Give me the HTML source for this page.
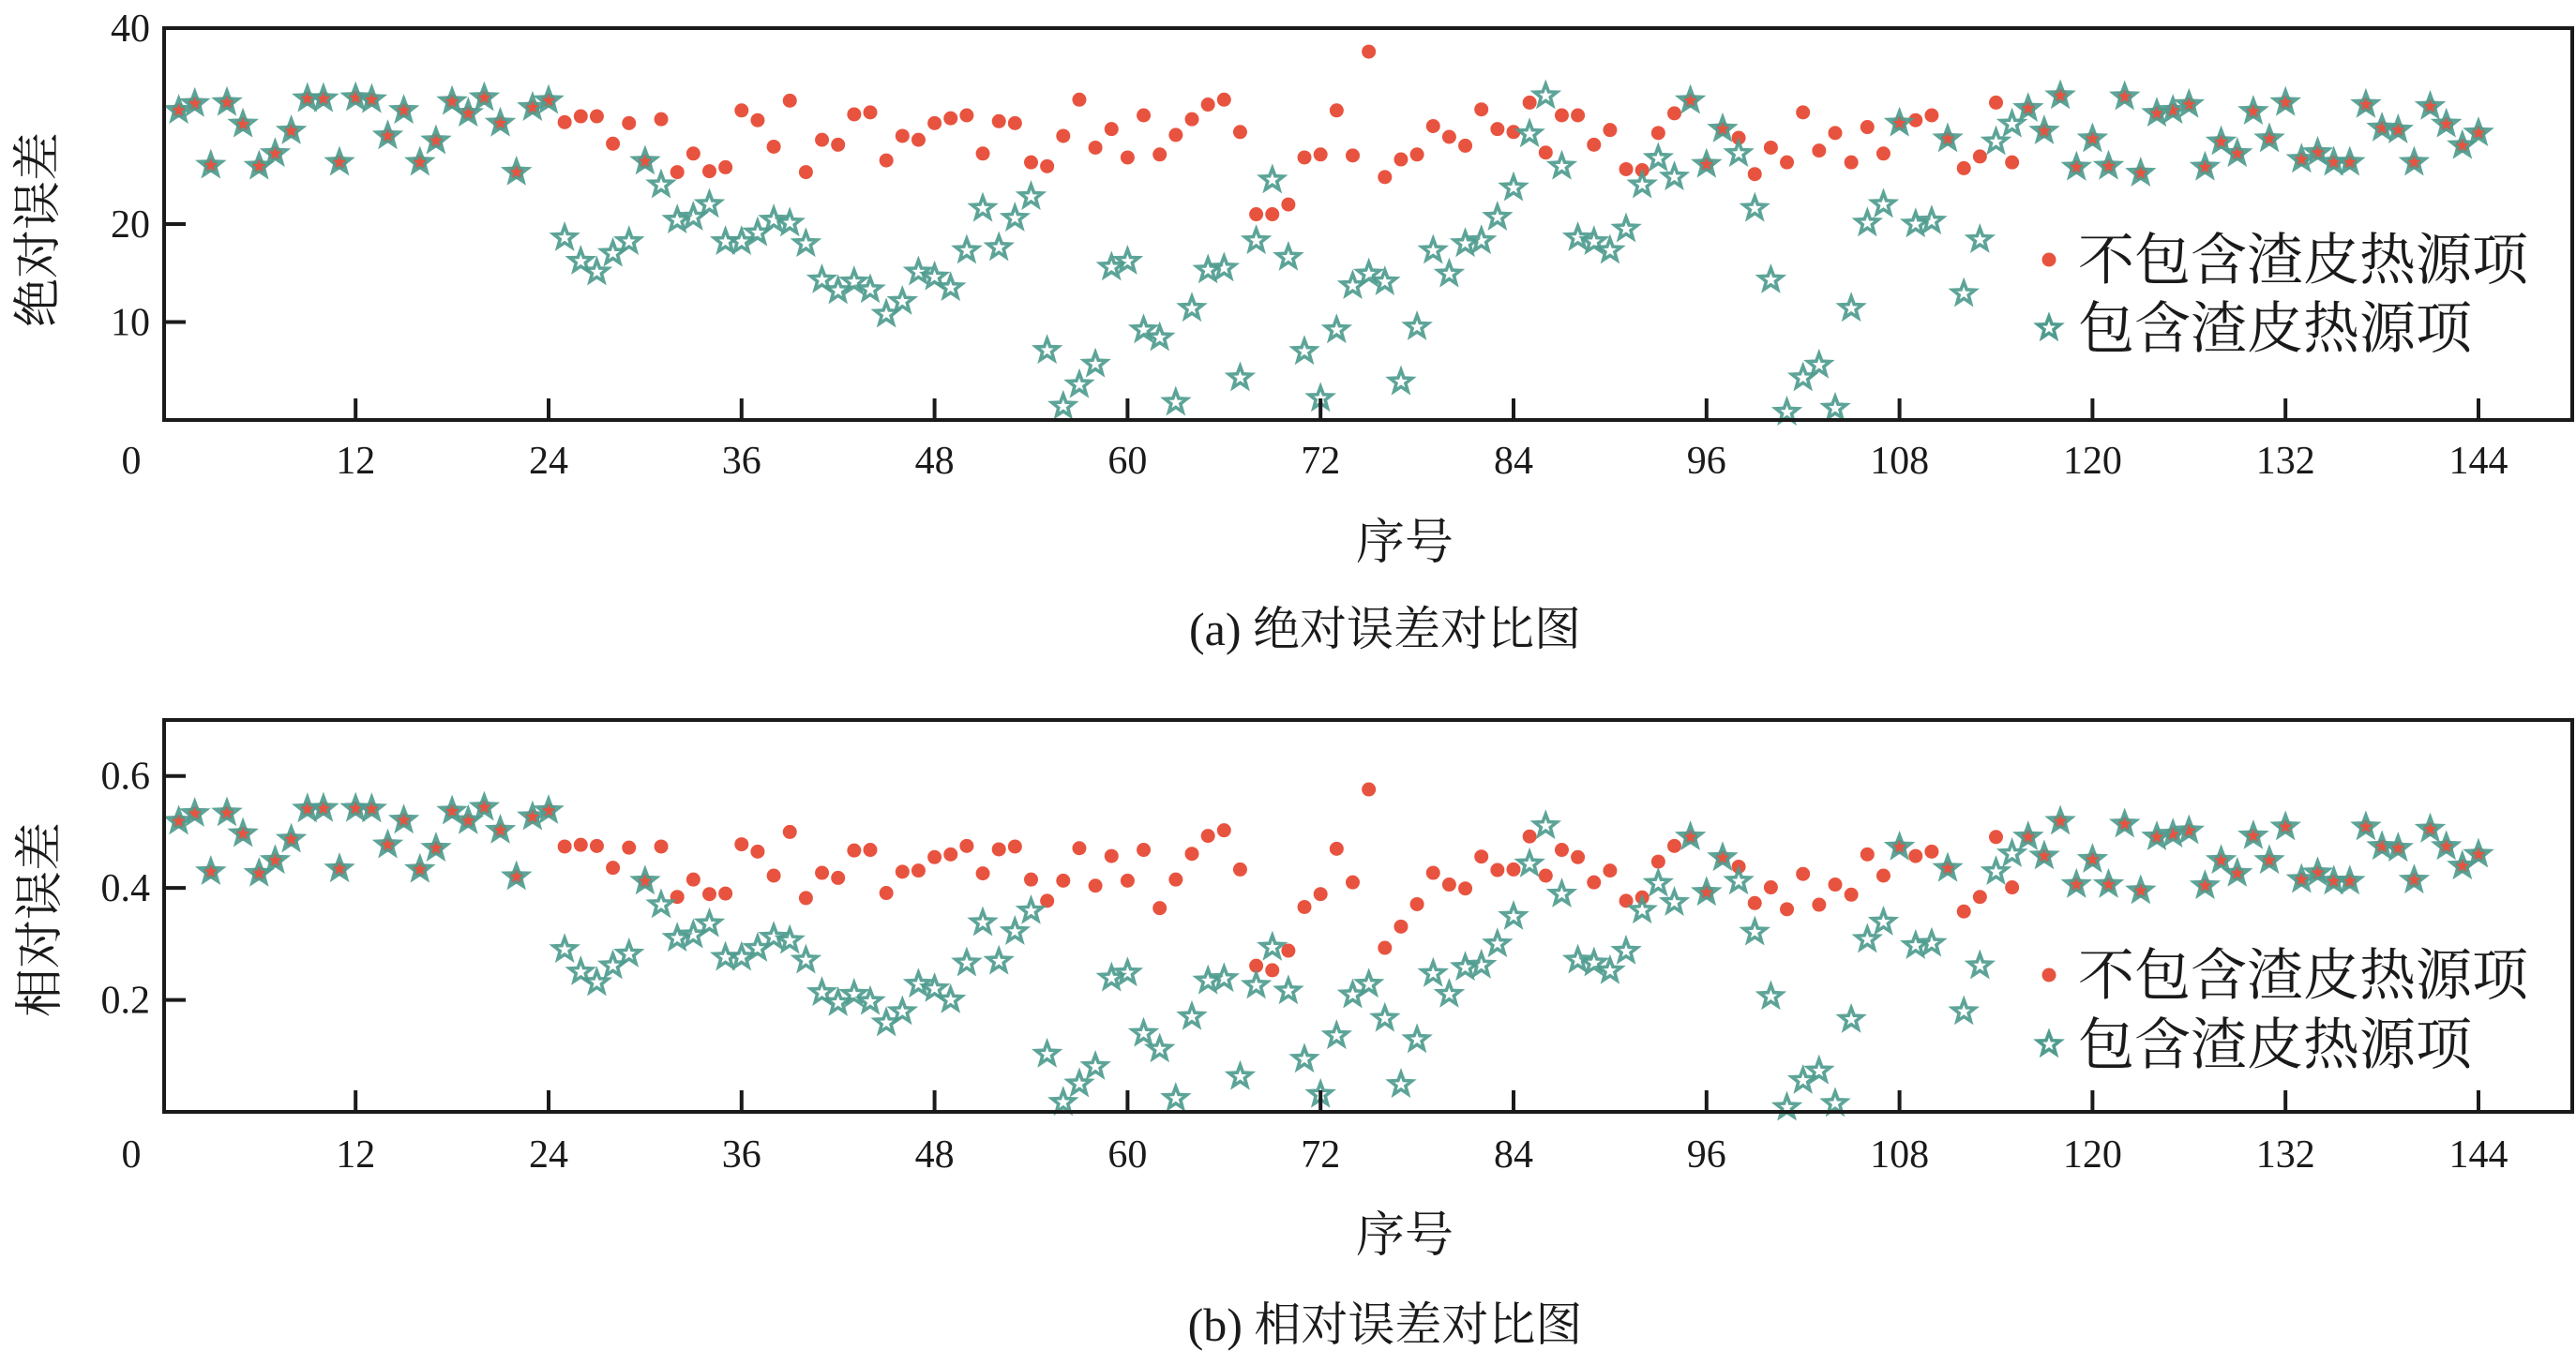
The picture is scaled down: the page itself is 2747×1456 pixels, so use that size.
<!DOCTYPE html>
<html><head><meta charset="utf-8"><style>
html,body{margin:0;padding:0;background:#fff;}
svg{display:block;}
.t{font-family:"Liberation Serif","Noto Serif CJK SC",serif;fill:#1a1a1a;}
</style></head><body>
<svg id="fig" width="2747" height="1456" viewBox="0 0 2747 1456" xmlns="http://www.w3.org/2000/svg">
<rect width="2747" height="1456" fill="#fff"/>
<g id="p1"></g>
<g id="p2"></g>
</svg>
<script>
const xTicks=[0,12,24,36,48,60,72,84,96,108,120,132,144];
const absTicks=[10,20,40];
const relTicks=[0.2,0.4,0.6];
const absNo=[31.6,32.3,26.0,32.4,30.2,25.9,27.2,29.5,32.8,32.8,26.3,32.9,32.7,29.0,31.6,26.3,28.5,32.5,31.3,32.9,30.3,25.3,31.9,32.6,
30.4,31.0,31.0,28.2,30.3,26.4,30.7,25.3,27.2,25.4,25.8,31.6,30.6,27.9,
32.6,25.3,28.6,28.1,31.2,31.4,26.5,29.0,28.6,30.3,30.8,31.1,27.2,30.5,30.3,26.3,25.9,29.0,32.7,27.8,29.7,26.8,31.1,27.1,29.1,30.7,32.2,32.7,29.4,21.0,21.0,22.0,26.8,27.1,31.6,27.0,37.6,
24.8,26.6,27.1,30.0,28.9,28.0,31.7,29.7,29.4,32.4,27.3,31.1,31.1,28.1,29.6,25.6,25.5,29.3,31.3,32.6,26.1,29.7,28.8,25.1,27.8,26.3,31.4,27.5,29.3,26.3,29.9,27.2,30.3,30.6,31.1,28.7,25.7,26.9,
32.4,26.3,31.8,29.5,33.1,25.8,28.7,25.9,33.0,25.2,31.3,31.6,32.2,25.8,28.4,27.2,31.5,28.7,32.4,26.6,27.3,26.3,26.3,32.2,29.8,29.6,26.3,32.0,30.2,28.0,29.3];
const absWith=[31.6,32.3,26.0,32.4,30.2,25.9,27.2,29.5,32.8,32.8,26.3,32.9,32.7,29.0,31.6,26.3,28.5,32.5,31.3,32.9,30.3,25.3,31.9,32.6,
18.6,16.2,15.1,17.0,18.2,26.4,24.0,20.4,20.7,22.0,18.2,18.2,19.1,20.4,
20.1,18.0,14.3,13.2,14.1,13.3,10.8,12.1,15.1,14.6,13.5,17.3,21.6,17.6,20.6,22.8,7.1,1.4,3.6,5.7,15.6,16.2,9.2,8.4,1.8,11.4,15.3,15.5,4.3,18.3,24.5,16.6,7.0,2.2,9.2,13.7,14.9,
14.1,3.9,9.5,17.3,14.9,18.0,18.3,20.7,23.7,29.2,33.1,25.9,18.6,18.2,17.3,19.5,24.0,26.7,24.8,32.6,26.1,29.7,27.2,21.6,14.3,0.8,4.3,5.6,1.2,11.4,20.1,22.0,30.3,20.0,20.3,28.7,12.9,18.4,
28.4,30.2,31.8,29.5,33.1,25.8,28.7,25.9,33.0,25.2,31.3,31.6,32.2,25.8,28.4,27.2,31.5,28.7,32.4,26.6,27.3,26.3,26.3,32.2,29.8,29.6,26.3,32.0,30.2,28.0,29.3];
const relNo=[.519,.533,.429,.534,.497,.426,.449,.487,.541,.542,.434,.542,.541,.477,.521,.433,.471,.537,.520,.544,.503,.420,.527,.538,
.474,.477,.475,.436,.472,.412,.474,.384,.415,.389,.390,.478,.465,.422,
.500,.382,.427,.418,.467,.468,.391,.429,.431,.455,.460,.475,.426,.469,.474,.415,.377,.413,.471,.404,.457,.413,.468,.364,.415,.461,.493,.503,.433,.261,.253,.288,.366,.389,.470,.410,.576,
.293,.331,.371,.427,.406,.399,.456,.432,.433,.492,.422,.468,.455,.410,.431,.377,.383,.447,.475,.491,.392,.454,.438,.373,.401,.362,.425,.370,.406,.388,.460,.422,.473,.457,.465,.435,.358,.384,
.491,.401,.491,.457,.519,.406,.451,.406,.514,.395,.491,.496,.502,.404,.449,.426,.493,.449,.509,.415,.427,.412,.412,.509,.474,.471,.414,.505,.474,.439,.460];
const relWith=[.519,.533,.429,.534,.497,.426,.449,.487,.541,.542,.434,.542,.541,.477,.521,.433,.471,.537,.520,.544,.503,.420,.527,.538,
.290,.250,.231,.261,.282,.412,.370,.310,.316,.336,.276,.276,.292,.312,
.306,.271,.213,.195,.210,.197,.159,.179,.228,.220,.200,.266,.338,.269,.322,.359,.103,.017,.050,.081,.239,.248,.140,.112,.024,.170,.234,.238,.063,.226,.294,.216,.094,.031,.136,.209,.228,
.167,.049,.129,.247,.210,.258,.262,.300,.349,.443,.511,.389,.271,.266,.252,.287,.360,.408,.374,.491,.392,.454,.412,.321,.206,.008,.056,.073,.015,.165,.308,.339,.473,.297,.301,.435,.179,.261,
.429,.461,.491,.457,.519,.406,.451,.406,.514,.395,.491,.496,.502,.404,.449,.426,.493,.449,.509,.415,.427,.412,.412,.509,.474,.471,.414,.505,.474,.439,.460];
const legendLabels=["不包含渣皮热源项","包含渣皮热源项"];

const NS="http://www.w3.org/2000/svg";
const RED="#e8533f", TEAL="#4f9c8f", INK="#1a1a1a";
function mk(parent,tag,attrs,txt){const e=document.createElementNS(NS,tag);for(const k in attrs)e.setAttribute(k,attrs[k]);if(txt!==undefined)e.textContent=txt;parent.appendChild(e);return e;}
function starPath(cx,cy,R){const r=R*0.42;let d="";for(let k=0;k<10;k++){const a=-Math.PI/2+k*Math.PI/5;const rr=k%2?r:R;d+=(k?"L":"M")+(cx+rr*Math.cos(a)).toFixed(1)+","+(cy+rr*Math.sin(a)).toFixed(1);}return d+"Z";}
const xs=i=>173.4+17.15*i;

function panel(g,cfg){
  const {top,bot,vmax,ticks,fmt,no,wi,ylab,cap,xlabY,xtlY,capY,ylX,ylY,legY1,legY2}=cfg;
  const ys=v=>bot-(bot-top)*v/vmax;
  for(let i=0;i<no.length;i++){
    const d=mk(g,"circle",{cx:xs(i+1),cy:ys(no[i]),r:7.5,fill:RED});
    
    
  }
  for(let i=0;i<wi.length;i++){
    const s=mk(g,"path",{d:starPath(xs(i+1),ys(wi[i]),12.5),fill:"none",stroke:TEAL,"stroke-width":3.6,"stroke-linejoin":"miter","stroke-opacity":0.92});
    
    
  }
  const fr=mk(g,"rect",{x:175,y:top,width:2568,height:bot-top,fill:"none",stroke:INK,"stroke-width":4});
  
  
  xTicks.forEach(t=>{
    if(t>0){const tk=mk(g,"line",{x1:xs(t),x2:xs(t),y1:bot,y2:bot-23,stroke:INK,"stroke-width":4});
      
      }
    const lx=t===0?140:xs(t);
    const tl=mk(g,"text",{x:lx,y:xtlY,"text-anchor":"middle","font-size":42,class:"t"},String(t));
    
    
  });
  ticks.forEach(t=>{
    const tk=mk(g,"line",{x1:175,x2:198,y1:ys(t),y2:ys(t),stroke:INK,"stroke-width":4});
    
    
    const tl=mk(g,"text",{x:160,y:ys(t)+14,"text-anchor":"end","font-size":42,class:"t"},fmt(t));
    
    
  });
  const xl=mk(g,"text",{x:1498,y:xlabY,"text-anchor":"middle","font-size":52,class:"t"},"序号");
  
  
  const cp=mk(g,"text",{x:1477,y:capY,"text-anchor":"middle","font-size":50,class:"t"},cap);
  
  
  const yl=mk(g,"text",{x:0,y:0,"text-anchor":"middle","font-size":52,class:"t",transform:`translate(${ylX},${ylY}) rotate(-90)`},ylab);
  
  
  const ld=mk(g,"circle",{cx:2185,cy:legY1,r:7.5,fill:RED});
  
  
  const lt1=mk(g,"text",{x:2216,y:legY1+21,"font-size":60,class:"t"},legendLabels[0]);
  
  
  const ls=mk(g,"path",{d:starPath(2185,legY2,12.5),fill:"none",stroke:TEAL,"stroke-width":3.6});
  
  
  const lt2=mk(g,"text",{x:2216,y:legY2+21,"font-size":60,class:"t"},legendLabels[1]);
  
  
}
panel(document.getElementById('p1'),{top:30,bot:448,vmax:40,ticks:absTicks,fmt:t=>String(t),no:absNo,wi:absWith,
  ylab:"绝对误差",cap:"(a) 绝对误差对比图",xtlY:505,xlabY:596,capY:688,ylX:58,ylY:245,legY1:277,legY2:350});
panel(document.getElementById('p2'),{top:768,bot:1186,vmax:0.7,ticks:relTicks,fmt:t=>t.toFixed(1),no:relNo,wi:relWith,
  ylab:"相对误差",cap:"(b) 相对误差对比图",xtlY:1245,xlabY:1335,capY:1430,ylX:60,ylY:981,legY1:1040,legY2:1114});
</script>
</body></html>
